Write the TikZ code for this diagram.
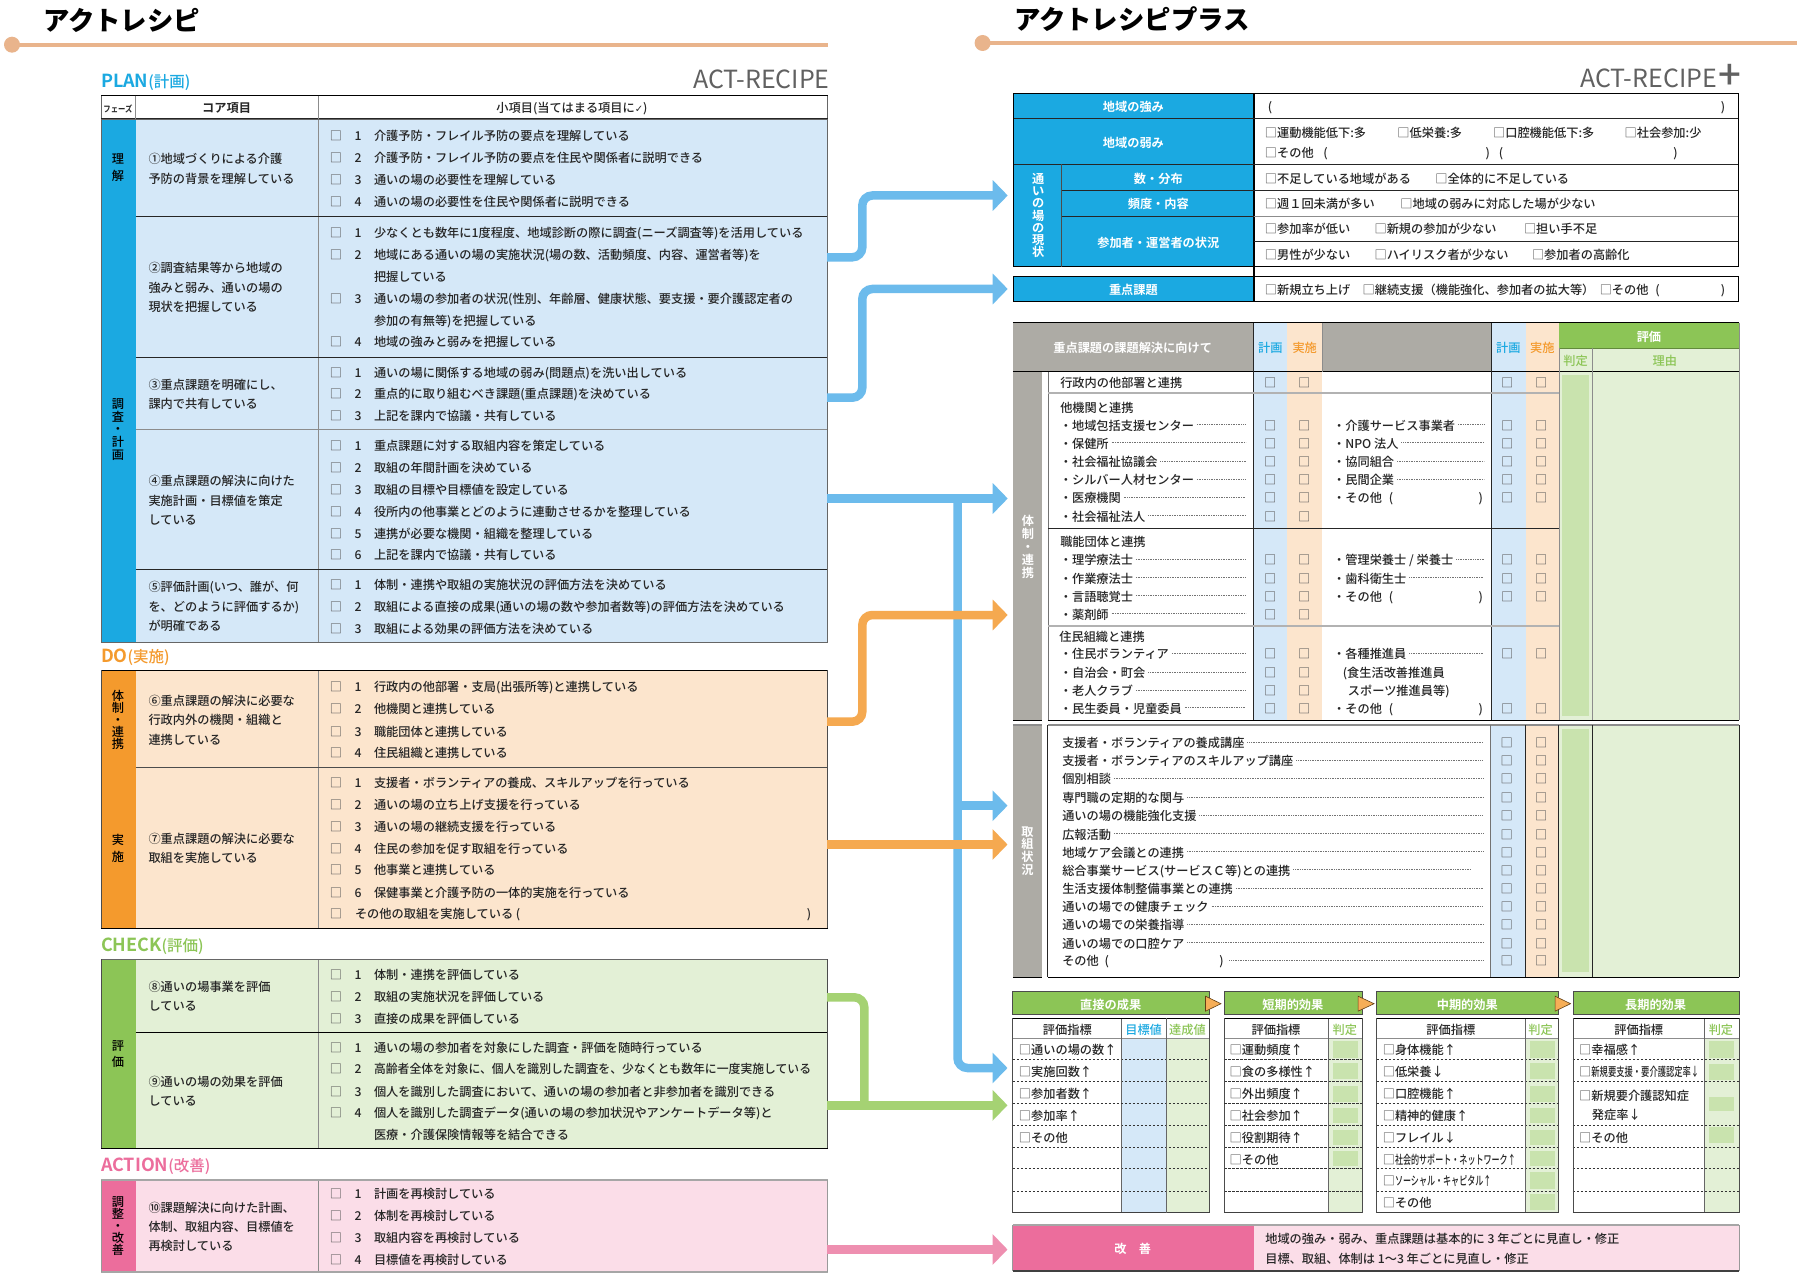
\documentclass[tikz,border=0pt]{standalone}
\usepackage{fontspec}
\usepackage{graphicx}
\usetikzlibrary{arrows.meta}
\setmainfont{Noto Sans CJK JP}
\newfontfamily\jp{Noto Sans CJK JP Medium}[BoldFont={Noto Sans CJK JP Bold}]
\newfontfamily\jpk{Noto Sans CJK JP Black}
\newfontfamily\jpr{Noto Sans CJK JP}
\newfontfamily\djv{DejaVu Sans}
\definecolor{cB}{HTML}{1BA9E1}\definecolor{cBp}{HTML}{D5E8F8}
\definecolor{cO}{HTML}{F49A2D}\definecolor{cOp}{HTML}{FCE5CD}
\definecolor{cG}{HTML}{8CC556}\definecolor{cGp}{HTML}{E3F0D6}\definecolor{cGm}{HTML}{C9E3AE}
\definecolor{cP}{HTML}{EC6D9C}\definecolor{cPp}{HTML}{FBDDE8}
\definecolor{cGy}{HTML}{ADABA5}
\definecolor{aB}{HTML}{6CBBEC}\definecolor{aO}{HTML}{F5A950}\definecolor{aG}{HTML}{A5D273}\definecolor{aP}{HTML}{EE8FB0}
\definecolor{cLine}{HTML}{E9B48C}\definecolor{cbg}{HTML}{555555}\definecolor{cTx}{HTML}{262626}
\newcount\nid
\newcommand\bx{{\color{cbg}□}}
\tikzset{
 tx/.style={inner sep=0,outer sep=0,anchor=west,text=cTx,text height=12pt,text depth=1.2pt,font=\jp\fontsize{12.2}{14}\selectfont},
 ct/.style={tx,anchor=center},
 wb/.style={ct,text=white,font=\jp\bfseries\fontsize{12.2}{14}\selectfont},
 vt/.style={inner sep=0,outer sep=0,align=center,anchor=center,text=#1},
 ldr/.style={draw=black!55,line width=.5pt,dash pattern=on .7pt off 1pt},
 conn/.style={draw=#1,line width=8.5pt,rounded corners=10pt,-{Triangle[length=15pt,width=30pt]}},
 connp/.style={draw=#1,line width=8.5pt,rounded corners=10pt},
 dk/.style={draw=black!85,line width=.9pt},
 bk/.style={draw=black,line width=1.2pt},
 gl/.style={draw=black!45,line width=.6pt},
 gt/.style={draw=black!30,line width=2pt},
 dsh/.style={draw=black!80,line width=.7pt,dash pattern=on 2.5pt off 1.5pt},
 rscale/.style={shift={(#1,0)},xscale=.9965,shift={(-#1,0)}},
}
\newcommand\txt[4][]{\global\advance\nid 1 \node[tx,#1] (t\the\nid) at (#2,#3) {#4};}
\newcommand\ctr[4][]{\global\advance\nid 1 \node[ct,#1] (t\the\nid) at (#2,#3) {#4};}
\newcommand\vtx[6][\jp]{\global\advance\nid 1 \node[vt=#6,font=#1\fontsize{12.2}{#4}\selectfont] (t\the\nid) at (#2,#3) {#5};}
\newcommand\Row[3]{\ctr{336}{#1}{\bx}\ctr{358}{#1}{#2}\txt{374}{#1}{#3}}
\newcommand\Cont[2]{\txt{374}{#1}{#2}}
\newcommand\Core[2]{\txt{148.5}{#1}{#2}}
\newcommand\leadr[4]{\txt{#1}{#2}{#3}\draw[ldr] ([xshift=3pt]t\the\nid.east) -- (#4,#2);}
\newcommand\LL[2]{\leadr{1060}{#1}{・#2}{1246.5}\ctr{1271}{#1}{\bx}\ctr{1305}{#1}{\bx}}
\newcommand\RR[2]{\leadr{1334}{#1}{・#2}{1485}\ctr{1508.4}{#1}{\bx}\ctr{1542.7}{#1}{\bx}}
\newcommand\RO[1]{\txt{1334}{#1}{・その他}\ctr{1392}{#1}{(}\ctr{1482}{#1}{)}\ctr{1508.4}{#1}{\bx}\ctr{1542.7}{#1}{\bx}}
\newcommand\KK[2]{\leadr{1062.4}{#1}{#2}{1484.4}\ctr{1508}{#1}{\bx}\ctr{1542.7}{#1}{\bx}}
\newcommand\Sec[5]{\txt[text=#5,font=\jp\bfseries\fontsize{18}{20}\selectfont]{#1}{#2}{#3{\jp\mdseries\fontsize{15.5}{15}\selectfont #4}}}
\newcommand\Sq[4]{\fill[cGm] (#1,#3) rectangle (#2,#4);}
\begin{document}
\begin{tikzpicture}[x=1pt,y=-1pt]
\useasboundingbox (0,0) rectangle (1800,1276);
\fill[white] (0,0) rectangle (1800,1276);
% ---- titles
\txt[text=black,font=\jpk\fontsize{26.4}{30}\selectfont]{43}{25}{アクトレシピ}
\draw[draw=cLine,line width=4pt] (12,44.7) -- (827.6,44.7);
\fill[cLine] (12,44.7) circle (8);
\txt[text=black,font=\jpk\fontsize{26.4}{30}\selectfont]{1014}{24}{アクトレシピプラス}
\draw[draw=cLine,line width=4pt] (982.6,43) -- (1797,43);
\fill[cLine] (982.6,43) circle (8);
\txt[anchor=east,text=black!62,font=\jpr\fontsize{25}{28}\selectfont]{829.6}{83.5}{ACT-RECIPE}
\txt[anchor=east,text=black!62,font=\jpr\fontsize{25}{28}\selectfont]{1717}{82}{ACT-RECIPE}
\ctr[text=black!62,font=\jp\fontsize{40}{42}\selectfont]{1729.6}{84}{+}
% ---- section labels
\Sec{101}{82}{PLAN}{(計画)}{cB}
\Sec{101}{657}{DO}{(実施)}{cO}
\Sec{101}{946}{CHECK}{(評価)}{cG}
\Sec{101}{1166}{ACTION}{(改善)}{cP}
% ---- left table fills
\fill[cB] (101.4,119.3) rectangle (135.5,642.3);
\fill[cBp] (135.5,119.3) rectangle (827.6,642.3);
\fill[cO] (101.4,670.3) rectangle (135.5,928.3);
\fill[cOp] (135.5,670.3) rectangle (827.6,928.3);
\fill[cG] (101.4,959.3) rectangle (135.5,1148.3);
\fill[cGp] (135.5,959.3) rectangle (827.6,1148.3);
\fill[cP] (101.4,1180) rectangle (135.5,1272);
\fill[cPp] (135.5,1180) rectangle (827.6,1272);
% lines
\draw[bk] (101.4,95.7) -- (827.6,95.7);
\draw[draw=black!60,line width=.6pt] (101.4,95.7) -- (101.4,119.3) (827.6,95.7) -- (827.6,119.3);
\draw[draw=black!85,line width=2pt] (101.4,119.3) -- (827.6,119.3);
\draw[gl] (135.5,95.7) -- (135.5,119.3) (318,95.7) -- (318,642.3) (318,670.3) -- (318,928.3) (318,959.3) -- (318,1148.3) (318,1180) -- (318,1272);
\draw[dk] (135.5,216.7) -- (827.6,216.7) (135.5,357.3) -- (827.6,357.3) (135.5,569.7) -- (827.6,569.7);
\draw[gl] (135.5,429.3) -- (827.6,429.3);
\draw[draw=black!60,line width=.9pt] (101.4,642.3) rectangle (827.6,119.3);
\draw[bk] (101.4,670.3) -- (827.6,670.3);
\draw[draw=black!70,line width=.7pt] (135.5,767.3) -- (827.6,767.3);
\draw[bk] (101.4,928.3) -- (827.6,928.3);
\draw[draw=black!70,line width=.6pt] (101.4,670.3) -- (101.4,928.3) (827.6,670.3) -- (827.6,928.3);
\draw[draw=black!60,line width=1pt] (101.4,959.3) -- (827.6,959.3);
\draw[bk] (135.5,1032.3) -- (827.6,1032.3);
\draw[bk] (101.4,1148.3) -- (827.6,1148.3);
\draw[draw=black!70,line width=.6pt] (101.4,959.3) -- (101.4,1148.3) (827.6,959.3) -- (827.6,1148.3);
\draw[draw=black!35,line width=1.6pt] (101.4,1180) -- (827.6,1180) (101.4,1272) -- (827.6,1272);
\draw[draw=black!40,line width=.6pt] (101.4,1180) -- (101.4,1272) (827.6,1180) -- (827.6,1272);
% header text
\ctr[font=\jp\bfseries\fontsize{8}{9}\selectfont]{118}{107}{\scalebox{.92}[1.1]{フェーズ}}
\ctr[font=\jp\bfseries\fontsize{12.2}{14}\selectfont]{226.6}{107}{コア項目}
\ctr{572}{107}{小項目(当てはまる項目に{\djv\fontsize{10}{12}\selectfont ✓})}
% phases
\vtx{118}{168}{17}{理\\解}{black}
\vtx{118}{429.5}{12.6}{調\\査\\・\\計\\画}{black}
\vtx{118}{720}{12}{体\\制\\・\\連\\携}{black}
\vtx{118}{848.5}{17}{実\\施}{black}
\vtx{118}{1054}{16.6}{評\\価}{black}
\vtx{118}{1226}{12.1}{調\\整\\・\\改\\善}{black}
% row 1
\Core{158.3}{①地域づくりによる介護}\Core{177.7}{予防の背景を理解している}
\Row{135}{1}{介護予防・フレイル予防の要点を理解している}
\Row{157.3}{2}{介護予防・フレイル予防の要点を住民や関係者に説明できる}
\Row{179}{3}{通いの場の必要性を理解している}
\Row{200.7}{4}{通いの場の必要性を住民や関係者に説明できる}
% row 2
\Core{267.3}{②調査結果等から地域の}\Core{286.7}{強みと弱み、通いの場の}\Core{306}{現状を把握している}
\Row{232}{1}{少なくとも数年に1度程度、地域診断の際に調査(ニーズ調査等)を活用している}
\Row{254}{2}{地域にある通いの場の実施状況(場の数、活動頻度、内容、運営者等)を}
\Cont{276.3}{把握している}
\Row{298.3}{3}{通いの場の参加者の状況(性別、年齢層、健康状態、要支援・要介護認定者の}
\Cont{319.7}{参加の有無等)を把握している}
\Row{341.3}{4}{地域の強みと弱みを把握している}
% row 3
\Core{384}{③重点課題を明確にし、}\Core{403.3}{課内で共有している}
\Row{372}{1}{通いの場に関係する地域の弱み(問題点)を洗い出している}
\Row{393.3}{2}{重点的に取り組むべき課題(重点課題)を決めている}
\Row{415}{3}{上記を課内で協議・共有している}
% row 4
\Core{480.3}{④重点課題の解決に向けた}\Core{499.7}{実施計画・目標値を策定}\Core{519}{している}
\Row{445}{1}{重点課題に対する取組内容を策定している}
\Row{466.7}{2}{取組の年間計画を決めている}
\Row{489}{3}{取組の目標や目標値を設定している}
\Row{511}{4}{役所内の他事業とどのように連動させるかを整理している}
\Row{532.7}{5}{連携が必要な機関・組織を整理している}
\Row{554.3}{6}{上記を課内で協議・共有している}
% row 5
\Core{586.3}{⑤評価計画(いつ、誰が、何}\Core{605.7}{を、どのように評価するか)}\Core{625}{が明確である}
\Row{584}{1}{体制・連携や取組の実施状況の評価方法を決めている}
\Row{605.7}{2}{取組による直接の成果(通いの場の数や参加者数等)の評価方法を決めている}
\Row{628}{3}{取組による効果の評価方法を決めている}
% row 6
\Core{700}{⑥重点課題の解決に必要な}\Core{719.3}{行政内外の機関・組織と}\Core{738.7}{連携している}
\Row{686.3}{1}{行政内の他部署・支局(出張所等)と連携している}
\Row{708.3}{2}{他機関と連携している}
\Row{730.7}{3}{職能団体と連携している}
\Row{752.3}{4}{住民組織と連携している}
% row 7
\Core{838}{⑦重点課題の解決に必要な}\Core{857.3}{取組を実施している}
\Row{782.3}{1}{支援者・ボランティアの養成、スキルアップを行っている}
\Row{804.3}{2}{通いの場の立ち上げ支援を行っている}
\Row{826.3}{3}{通いの場の継続支援を行っている}
\Row{847.7}{4}{住民の参加を促す取組を行っている}
\Row{869.3}{5}{他事業と連携している}
\Row{892}{6}{保健事業と介護予防の一体的実施を行っている}
\ctr{336}{913.3}{\bx}\txt{355}{913.3}{その他の取組を実施している (}\ctr{809}{913.3}{)}
% row 8
\Core{986}{⑧通いの場事業を評価}\Core{1005.3}{している}
\Row{974}{1}{体制・連携を評価している}
\Row{995.7}{2}{取組の実施状況を評価している}
\Row{1017.7}{3}{直接の成果を評価している}
% row 9
\Core{1080.7}{⑨通いの場の効果を評価}\Core{1100.3}{している}
\Row{1046.7}{1}{通いの場の参加者を対象にした調査・評価を随時行っている}
\Row{1068.3}{2}{\scalebox{.97}[1]{高齢者全体を対象に、個人を識別した調査を、少なくとも数年に一度実施している}}
\Row{1090.7}{3}{個人を識別した調査において、通いの場の参加者と非参加者を識別できる}
\Row{1112.3}{4}{個人を識別した調査データ(通いの場の参加状況やアンケートデータ等)と}
\Cont{1134}{医療・介護保険情報等を結合できる}
% row 10
\Core{1206.7}{⑩課題解決に向けた計画、}\Core{1226}{体制、取組内容、目標値を}\Core{1245.3}{再検討している}
\Row{1193.3}{1}{計画を再検討している}
\Row{1215.3}{2}{体制を再検討している}
\Row{1237}{3}{取組内容を再検討している}
\Row{1258.7}{4}{目標値を再検討している}
% ---- right upper table
\begin{scope}[rscale=960]
\fill[cB] (1013.8,93.7) rectangle (1255,266.7);
\fill[cB] (1013.8,276.3) rectangle (1255,301.7);
\draw[bk] (1013.8,93.7) rectangle (1741,266.7);
\draw[bk] (1013.8,276.3) rectangle (1741,301.7);
\draw[bk] (1255,93.7) -- (1255,301.7);
\draw[dk] (1013.8,118.3) -- (1741,118.3) (1013.8,164.3) -- (1741,164.3) (1062,190.3) -- (1741,190.3);
\draw[dk] (1062,216.3) -- (1255,216.3) (1255,241.3) -- (1741,241.3);
\draw[draw=black!45,line width=1pt] (1255,216.3) -- (1741,216.3);
\draw[draw=black!70,line width=.9pt] (1062,164.3) -- (1062,266.7);
\ctr[wb]{1134}{106}{地域の強み}
\ctr[wb]{1134}{141.7}{地域の弱み}
\ctr[wb]{1159}{177.7}{数・分布}
\ctr[wb]{1159}{203}{頻度・内容}
\ctr[wb]{1159}{242}{参加者・運営者の状況}
\ctr[wb]{1134}{289.3}{重点課題}
\vtx[\jp\bfseries]{1038.5}{215.5}{12.2}{通\\い\\の\\場\\の\\現\\状}{white}
\ctr{1271}{106}{(}\ctr{1725.6}{106}{)}
\txt{1266}{132.3}{\bx 運動機能低下:多}
\txt{1399}{132.3}{\bx 低栄養:多}
\txt{1495}{132.3}{\bx 口腔機能低下:多}
\txt{1627}{132.3}{\bx 社会参加:少}
\txt{1266}{151.7}{\bx その他}
\ctr{1326.7}{151.7}{(}\ctr{1489.6}{151.7}{)}\ctr{1503}{151.7}{(}\ctr{1678}{151.7}{)}
\txt{1266}{177.7}{\bx 不足している地域がある}
\txt{1437}{177.7}{\bx 全体的に不足している}
\txt{1266}{203}{\bx 週１回未満が多い}
\txt{1402}{203}{\bx 地域の弱みに対応した場が少ない}
\txt{1266}{228.3}{\bx 参加率が低い}
\txt{1376}{228.3}{\bx 新規の参加が少ない}
\txt{1526}{228.3}{\bx 担い手不足}
\txt{1266}{254.3}{\bx 男性が少ない}
\txt{1376}{254.3}{\bx ハイリスク者が少ない}
\txt{1534}{254.3}{\bx 参加者の高齢化}
\txt{1266}{289.3}{\bx 新規立ち上げ}
\txt{1364}{289.3}{\bx 継続支援（機能強化、参加者の拡大等）}
\txt{1602}{289.3}{\bx その他}
\ctr{1660}{289.3}{(}\ctr{1725.6}{289.3}{)}
\end{scope}
\begin{scope}[shift={(1000,0)},xscale=.99745,shift={(-1000,0)}]
% ---- third table
\fill[cGy] (1012.8,322.7) rectangle (1254.2,371.7);
\fill[cGy] (1322.8,322.7) rectangle (1492.6,371.7);
\fill[cGy] (1012.8,371.7) rectangle (1042.5,720);
\fill[cBp] (1254.2,322.7) rectangle (1288,720);
\fill[cOp] (1288,322.7) rectangle (1322.8,720);
\fill[cBp] (1492.6,322.7) rectangle (1526.9,720);
\fill[cOp] (1526.9,322.7) rectangle (1560.6,720);
\fill[cG] (1560.6,322.7) rectangle (1741,348);
\fill[cGp] (1560.6,348) rectangle (1741,720);
\fill[cGm] (1563,375) rectangle (1590.8,716);
\draw[draw=black!55,line width=.6pt] (1048,371.7) -- (1048,720);
\draw[bk] (1012.8,322.7) -- (1741,322.7);
\draw[draw=black,line width=1.1pt] (1012.8,371.7) -- (1741,371.7);
\draw[draw=cG!70!black,line width=.8pt] (1560.6,348) -- (1741,348);
\draw[dk] (1254.2,322.7) -- (1254.2,720) (1492.6,322.7) -- (1492.6,720);
\draw[gl] (1322.8,322.7) -- (1322.8,372) (1593.9,348) -- (1593.9,720) (1560.6,348) -- (1560.6,720) (1741,322.7) -- (1741,720);
\draw[gt] (1048,392.7) -- (1560.6,392.7) (1048,626) -- (1560.6,626);
\draw[dk] (1048,528.3) -- (1560.6,528.3);
\draw[bk] (1012.8,720.3) -- (1042.5,720.3) (1048,720.3) -- (1741,720.3);
\ctr[wb]{1133}{347}{重点課題の課題解決に向けて}
\ctr[text=cB]{1271}{347}{計画}\ctr[text=cO]{1305.5}{347}{実施}
\ctr[text=cB]{1509.7}{347}{計画}\ctr[text=cO]{1543.7}{347}{実施}
\ctr[wb]{1650.6}{335.7}{評価}
\ctr[text=cG]{1577}{360}{判定}\ctr[text=cG]{1666.5}{360}{理由}
\vtx[\jp\bfseries]{1028}{546.7}{13}{体\\制\\・\\連\\携}{white}
\txt{1060.4}{382.3}{行政内の他部署と連携}
\ctr{1271}{382.3}{\bx}\ctr{1305}{382.3}{\bx}\ctr{1508.4}{382.3}{\bx}\ctr{1542.7}{382.3}{\bx}
\txt{1060.4}{407.3}{他機関と連携}
\LL{424.7}{地域包括支援センター}\RR{424.7}{介護サービス事業者}
\LL{442.7}{保健所}\RR{442.7}{NPO 法人}
\LL{461.3}{社会福祉協議会}\RR{461.3}{協同組合}
\LL{479.3}{シルバー人材センター}\RR{479.3}{民間企業}
\LL{497.3}{医療機関}\RO{497.3}
\LL{515.7}{社会福祉法人}
\txt{1060.4}{540.7}{職能団体と連携}
\LL{559}{理学療法士}\RR{559}{管理栄養士 / 栄養士}
\LL{577.7}{作業療法士}\RR{577.7}{歯科衛生士}
\LL{595.7}{言語聴覚士}\RO{595.7}
\LL{613.7}{薬剤師}
\txt{1059.5}{635.7}{住民組織と連携}
\LL{653.3}{住民ボランティア}\RR{653.3}{各種推進員}
\LL{672}{自治会・町会}\txt{1343.7}{672}{(食生活改善推進員}
\LL{690}{老人クラブ}\txt{1348.8}{690}{スポーツ推進員等)}
\LL{707.7}{民生委員・児童委員}\RO{707.7}
% ---- block 2
\fill[cGy] (1012.8,725) rectangle (1042.5,977.3);
\fill[cBp] (1491.6,725) rectangle (1526.9,977.3);
\fill[cOp] (1526.9,725) rectangle (1560,977.3);
\fill[cGp] (1560,725) rectangle (1741,977.3);
\fill[cGm] (1563,729.3) rectangle (1590.8,972.3);
\draw[draw=black!45,line width=1.3pt] (1012.8,725) -- (1042.5,725) (1048,725) -- (1741,725);
\draw[dk] (1048,725) -- (1048,977.3) (1526.9,725) -- (1526.9,977.3) (1560,725) -- (1560,977.3) (1593.9,725) -- (1593.9,977.3) (1741,725) -- (1741,977.3);
\draw[draw=black!55,line width=.8pt] (1491.6,725) -- (1491.6,977.3);
\draw[bk] (1012.8,977.3) -- (1042.5,977.3) (1048,977.3) -- (1741,977.3);
\vtx[\jp\bfseries]{1027.6}{851}{12.7}{取\\組\\状\\況}{white}
\KK{742.3}{支援者・ボランティアの養成講座}
\KK{760.3}{支援者・ボランティアのスキルアップ講座}
\KK{778.3}{個別相談}
\KK{797}{専門職の定期的な関与}
\KK{815}{通いの場の機能強化支援}
\KK{833.7}{広報活動}
\KK{851.7}{地域ケア会議との連携}
\leadr{1062.4}{869.7}{総合事業サービス(サービスＣ等)との連携}{1471.6}\ctr{1508}{869.7}{\bx}\ctr{1542.7}{869.7}{\bx}
\KK{888.3}{生活支援体制整備事業との連携}
\KK{906}{通いの場での健康チェック}
\KK{924}{通いの場での栄養指導}
\KK{942.7}{通いの場での口腔ケア}
\txt{1062.4}{960.3}{その他}\ctr{1107}{960.3}{(}\ctr{1222}{960.3}{)}\draw[ldr] (1230,960.3) -- (1484.4,960.3);
\ctr{1508}{960.3}{\bx}\ctr{1542.7}{960.3}{\bx}
% ---- bottom panels
\foreach \a/\b in {1012.8/1210.2,1225/1363.2,1377.5/1560,1574.4/1741}{
 \fill[cG] (\a,991.7) rectangle (\b,1014.7);
 \draw[draw=black!70,line width=.7pt] (\a,991.7) rectangle (\b,1014.7);
}
\foreach \a/\b in {1206/1221.5,1359/1375,1556.5/1572}{
 \draw[draw=black!60!cO,line width=.6pt,fill=cO!80!white] (\a,996.2) -- (\b,1003.7) -- (\a,1011.2) -- cycle;
}
\ctr[wb]{1111}{1003.7}{直接の成果}
\ctr[wb]{1293.6}{1003.7}{短期的効果}
\ctr[wb]{1468.5}{1003.7}{中期的効果}
\ctr[wb]{1657.3}{1003.7}{長期的効果}
\fill[cBp] (1121.7,1038.7) rectangle (1166.8,1212.7);
\fill[cGp] (1166.8,1038.7) rectangle (1210.2,1212.7);
\fill[cGp] (1329.4,1038.7) rectangle (1363.2,1212.7);
\fill[cGp] (1526.9,1038.7) rectangle (1560,1212.7);
\fill[cGp] (1706.4,1038.7) rectangle (1741,1212.7);
\foreach \t/\b in {1041/1058,1063/1079,1086/1102,1108/1123,1130/1145,1151/1166}{\Sq{1334}{1359}{\t}{\b}}
\foreach \t/\b in {1041/1058,1063/1079,1086/1102,1108/1123,1130/1145,1151/1166,1172/1189,1194/1210}{\Sq{1531}{1556}{\t}{\b}}
\foreach \t/\b in {1041/1058,1064/1080,1097/1111,1127/1143}{\Sq{1710.5}{1735.6}{\t}{\b}}
\foreach \a/\m/\b in {1012.8/1121.7/1210.2,1225/1329.4/1363.2,1377.5/1526.9/1560,1574.4/1706.4/1741}{
 \foreach \y in {1059.3,1081.3,1125.3,1147.3,1168.3,1191.3}{\draw[dsh] (\a,\y) -- (\b,\y);}
 \draw[draw=black!45,line width=.7pt] (\a,1038.7) -- (\b,1038.7);
 \draw[draw=black!60,line width=.7pt] (\m,1018.3) -- (\m,1212.7);
 \draw[draw=black,line width=.9pt] (\a,1018.3) -- (\b,1018.3);
 \draw[draw=black!70,line width=.7pt] (\a,1018.3) -- (\a,1212.7) (\b,1018.3) -- (\b,1212.7);
 \draw[draw=black!75,line width=1.3pt] (\a,1212.7) -- (\b,1212.7);
}
\foreach \a/\b in {1012.8/1210.2,1225/1363.2,1377.5/1560}{\draw[dsh] (\a,1103.7) -- (\b,1103.7);}
\draw[draw=black!60,line width=.7pt] (1166.8,1018.3) -- (1166.8,1212.7);
\ctr{1067.5}{1028.7}{評価指標}\ctr[text=cB]{1144}{1028.7}{目標値}\ctr[text=cG]{1188}{1028.7}{達成値}
\ctr{1276.7}{1028.7}{評価指標}\ctr[text=cG]{1345.8}{1028.7}{判定}
\ctr{1452}{1028.7}{評価指標}\ctr[text=cG]{1542}{1028.7}{判定}
\ctr{1640.4}{1028.7}{評価指標}\ctr[text=cG]{1722.8}{1028.7}{判定}
\txt{1019}{1049.3}{\bx 通いの場の数↑}
\txt{1019}{1071}{\bx 実施回数↑}
\txt{1019}{1092.7}{\bx 参加者数↑}
\txt{1019}{1114.7}{\bx 参加率↑}
\txt{1019}{1137}{\bx その他}
\txt{1230.3}{1049.3}{\bx 運動頻度↑}
\txt{1230.3}{1071}{\bx 食の多様性↑}
\txt{1230.3}{1092.7}{\bx 外出頻度↑}
\txt{1230.3}{1114.7}{\bx 社会参加↑}
\txt{1230.3}{1137}{\bx 役割期待↑}
\txt{1230.3}{1158.7}{\bx その他}
\txt{1383.8}{1049.3}{\bx 身体機能↑}
\txt{1383.8}{1071}{\bx 低栄養↓}
\txt{1383.8}{1092.7}{\bx 口腔機能↑}
\txt{1383.8}{1114.7}{\bx 精神的健康↑}
\txt{1383.8}{1137}{\bx フレイル↓}
\txt{1383.8}{1158.7}{\bx\scalebox{.66}[1]{社会的サポート・ネットワーク↑}}
\txt{1383.8}{1180}{\bx\scalebox{.66}[1]{ソーシャル・キャピタル↑}}
\txt{1383.8}{1201.7}{\bx その他}
\txt{1580.7}{1049.3}{\bx 幸福感↑}
\txt{1580.7}{1071}{\bx\scalebox{.68}[1]{新規要支援・要介護認定率↓}}
\txt{1580.7}{1095.3}{\bx 新規要介護認知症}
\txt{1593.4}{1114}{発症率↓}
\txt{1580.7}{1137}{\bx その他}
% ---- improvement band
\fill[cP] (1012.8,1225) rectangle (1254.2,1271);
\fill[cPp] (1254.2,1225) rectangle (1741,1271);
\draw[draw=black!35,line width=1.2pt] (1012.8,1225) -- (1741,1225);
\draw[draw=black!75,line width=1.2pt] (1012.8,1271) -- (1741,1271);
\draw[draw=black!40,line width=.7pt] (1012.8,1225) -- (1012.8,1271) (1741,1225) -- (1741,1271);
\ctr[wb]{1133}{1248.3}{改　善}
\txt{1266}{1238.3}{地域の強み・弱み、重点課題は基本的に 3 年ごとに見直し・修正}
\txt{1266}{1258}{目標、取組、体制は 1〜3 年ごとに見直し・修正}
\end{scope}
% ---- connectors
\coordinate (sA) at (827,257.3); \coordinate (eA) at (1007.7,195.5);
\coordinate (sB) at (827,397.7); \coordinate (eB) at (1007.7,289);
\coordinate (sC) at (827,498.5); \coordinate (eC) at (1007.7,498.5);
\coordinate (bend) at (862.3,0); \coordinate (trunk) at (957.5,0);
\coordinate (eD) at (1007.5,805.7); \coordinate (eE) at (1007.5,1068);
\coordinate (sF) at (827,721.7); \coordinate (eF) at (1007.7,615);
\coordinate (sG) at (827,844.5); \coordinate (eG) at (1007.5,844.5);
\coordinate (sH) at (827,997.3); \coordinate (sI) at (827,1105.3); \coordinate (eI) at (1007.5,1105.3);
\coordinate (gb) at (864.3,0);
\coordinate (sJ) at (827,1249.5); \coordinate (eJ) at (1007.5,1249.5);
\draw[conn=aB] (sA) -- (sA -| bend) -- (eA -| bend) -- (eA);
\draw[conn=aB] (sB) -- (sB -| bend) -- (eB -| bend) -- (eB);
\draw[conn=aB] (sC) -- (eC);
\draw[conn=aB] (eC -| trunk) -- (eE -| trunk) -- (eE);
\draw[conn=aB] (eD -| trunk) -- (eD);
\draw[conn=aO] (sF) -- (sF -| bend) -- (eF -| bend) -- (eF);
\draw[conn=aO] (sG) -- (eG);
\draw[connp=aG] (sH) -- (sH -| gb) -- (sI -| gb);
\draw[conn=aG] (sI) -- (eI);
\draw[conn=aP] (sJ) -- (eJ);
\end{tikzpicture}
\end{document}
